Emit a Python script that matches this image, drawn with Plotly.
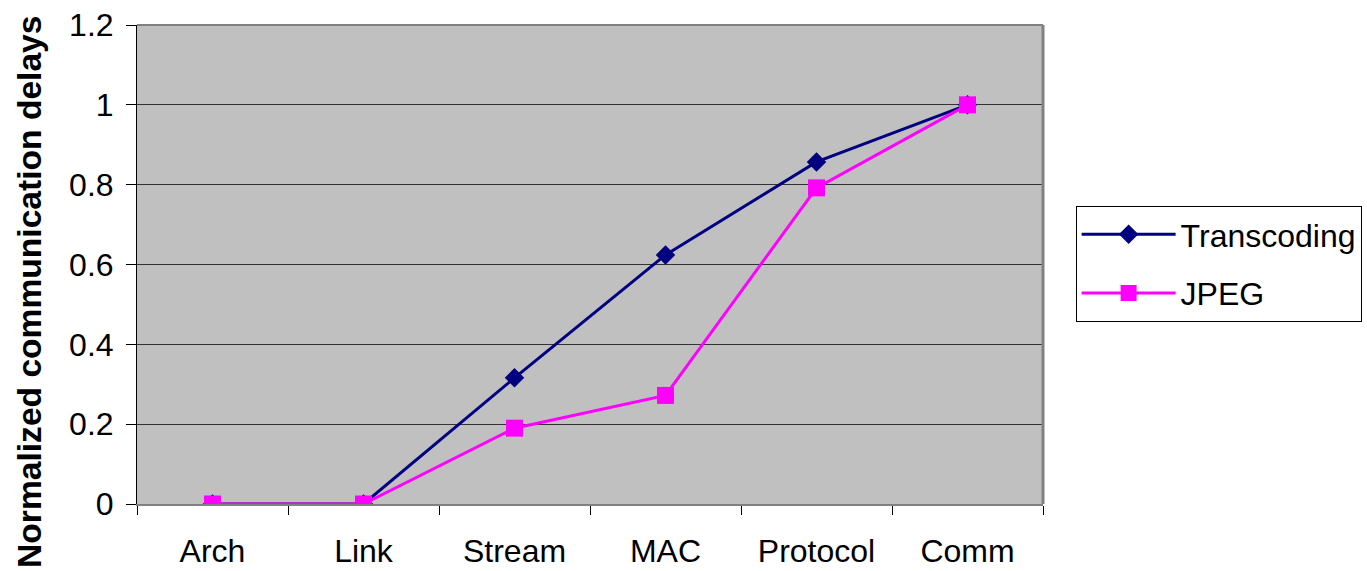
import plotly.graph_objects as go

# Communication delay per stage, normalized to the final stage
categories = ["Arch", "Link", "Stream", "MAC", "Protocol", "Comm"]
transcoding = [0.0, 0.0, 0.316, 0.624, 0.857, 1.0]
jpeg = [0.0, 0.0, 0.19, 0.272, 0.792, 1.0]
y_ticks = [0, 0.2, 0.4, 0.6, 0.8, 1.0, 1.2]
y_tick_text = ["0", "0.2", "0.4", "0.6", "0.8", "1", "1.2"]

FONT = "Arial, Liberation Sans, sans-serif"

fig = go.Figure()
fig.add_trace(go.Scatter(
    x=categories, y=transcoding, name="Transcoding", mode="lines+markers",
    legendgroup="t",
    line=dict(color="#000080", width=3),
    marker=dict(symbol="diamond", size=15, color="#000080"),
))
fig.add_trace(go.Scatter(
    x=categories, y=jpeg, name="JPEG", mode="lines+markers",
    legendgroup="j",
    line=dict(color="#FF00FF", width=3),
    marker=dict(symbol="square", size=17, color="#FF00FF"),
))

fig.update_layout(
    width=1367, height=571,
    margin=dict(l=137, r=324, t=25, b=67, autoexpand=False),
    paper_bgcolor="white", plot_bgcolor="#C0C0C0",
    font=dict(family=FONT, size=32, color="black"),
    showlegend=True,
    legend=dict(
        x=1.036, y=0.622, xanchor="left", yanchor="top",
        bgcolor="white", bordercolor="black", borderwidth=1,
        font=dict(size=32), itemwidth=94, traceorder="grouped",
        tracegroupgap=14,
    ),
    xaxis=dict(
        type="category", range=[-0.5, 5.5], showgrid=False, zeroline=False,
        showline=True, linecolor="#808080", linewidth=2, automargin=False,
        ticks="outside", tickson="boundaries", ticklen=9, tickcolor="black",
        tickfont=dict(size=32), ticklabelstandoff=18,
    ),
    yaxis=dict(
        range=[0, 1.2], tickvals=y_ticks, ticktext=y_tick_text,
        showgrid=True, gridcolor="#333333", gridwidth=1, zeroline=False,
        showline=True, linecolor="black", linewidth=1, automargin=False,
        ticks="outside", ticklen=10, tickcolor="black",
        tickfont=dict(size=32), ticklabelstandoff=6,
    ),
    annotations=[dict(
        text="<b>Normalized communication delays</b>", textangle=-90,
        xref="paper", yref="paper", x=-0.118, y=0.443,
        xanchor="center", yanchor="middle", showarrow=False,
        font=dict(size=33.6, family=FONT, color="black"),
    )],
    shapes=[
        dict(type="line", xref="paper", yref="paper", x0=0, x1=1, y0=1, y1=1,
             line=dict(color="#808080", width=2)),
        dict(type="line", xref="paper", yref="paper", x0=1, x1=1, y0=0, y1=1,
             line=dict(color="#808080", width=3)),
    ],
)

fig.write_html("out.html")
